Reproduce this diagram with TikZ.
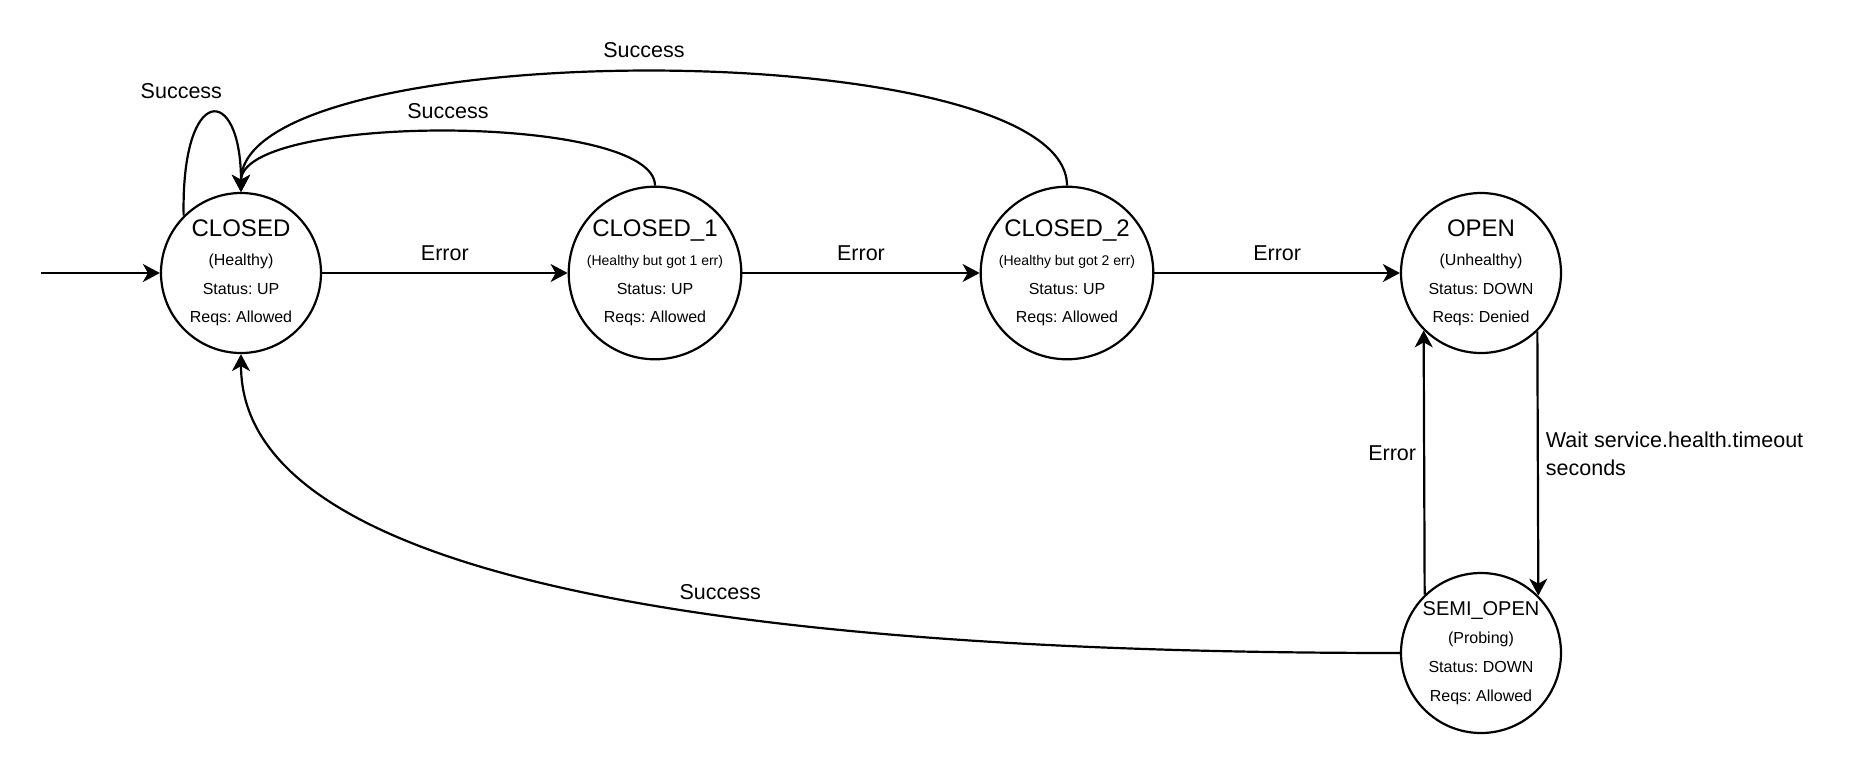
\documentclass[tikz,border=0pt]{standalone}
\usepackage{fontspec}
\setmainfont{Liberation Sans}
\usepackage{tikz}
\usetikzlibrary{arrows.meta}
\frenchspacing

\begin{document}
\begin{tikzpicture}[x=1pt, y=-1pt,
    statenode/.style={draw, circle, line width=2.2pt, minimum size=160pt, inner sep=0pt,
        align=center, font=\fontsize{16}{28.7}\selectfont},
    edge/.style={line width=2.2pt, -{Stealth[length=17pt, width=18pt, inset=5pt]}},
    lbl/.style={inner sep=0pt, font=\fontsize{21.5}{28}\selectfont}]
    \useasboundingbox (0,0) rectangle (1850,774);
    \node[statenode] (closed) at (241,273) {{\fontsize{24}{28.7}\selectfont CLOSED}\\(Healthy)\\Status: UP\\Reqs: Allowed};
    \node[statenode] (closed1) at (655,273) {{\fontsize{24}{28.7}\selectfont CLOSED\_1}\\{\fontsize{14}{28.7}\selectfont (Healthy but got 1 err)}\\Status: UP\\Reqs: Allowed};
    \node[statenode] (closed2) at (1067,273) {{\fontsize{24}{28.7}\selectfont CLOSED\_2}\\{\fontsize{14}{28.7}\selectfont (Healthy but got 2 err)}\\Status: UP\\Reqs: Allowed};
    \node[statenode] (open) at (1481,273) {{\fontsize{24}{28.7}\selectfont OPEN}\\(Unhealthy)\\Status: DOWN\\Reqs: Denied};
    \node[statenode] (semiopen) at (1481,653) {{\fontsize{20}{28.7}\selectfont SEMI\_OPEN}\\(Probing)\\Status: DOWN\\Reqs: Allowed};
    \coordinate (entry) at (41,273);
    % errors
    \draw[edge] (entry) -- (closed);
    \draw[edge] (closed) -- node[lbl, midway, above=11pt] {Error} (closed1);
    \draw[edge] (closed1) -- node[lbl, midway, above=11pt] {Error} (closed2);
    \draw[edge] (closed2) -- node[lbl, midway, above=11pt] {Error} (open);
    \draw[edge] (open.314.4) -- node[lbl, pos=0.462, right=7pt, align=left] {Wait service.health.timeout\\seconds} (semiopen.45.6);
    \draw[edge] (semiopen.134.4) -- node[lbl, pos=0.534, left=7pt] {Error} (open.225.6);
    % successes
    \draw[edge] (closed.135) .. controls (181,83) and (241,83) .. node[lbl, pos=0.5, above=13.3pt, xshift=-30pt] {Success} (closed.north);
    \draw[edge] (closed1.north) .. controls (655,113) and (241,113) .. node[lbl, midway, above=12.3pt] {Success} (closed.north);
    \draw[edge] (closed2.north) .. controls (1067,33) and (241,33) .. node[lbl, midway, above=13pt, xshift=-10pt] {Success} (closed.north);
    \draw[edge] (semiopen.west) .. controls (780,653) and (241,590) .. node[lbl, pos=0.4, above=15pt, xshift=-4pt] {Success} (closed.south);
\end{tikzpicture}
\end{document}
